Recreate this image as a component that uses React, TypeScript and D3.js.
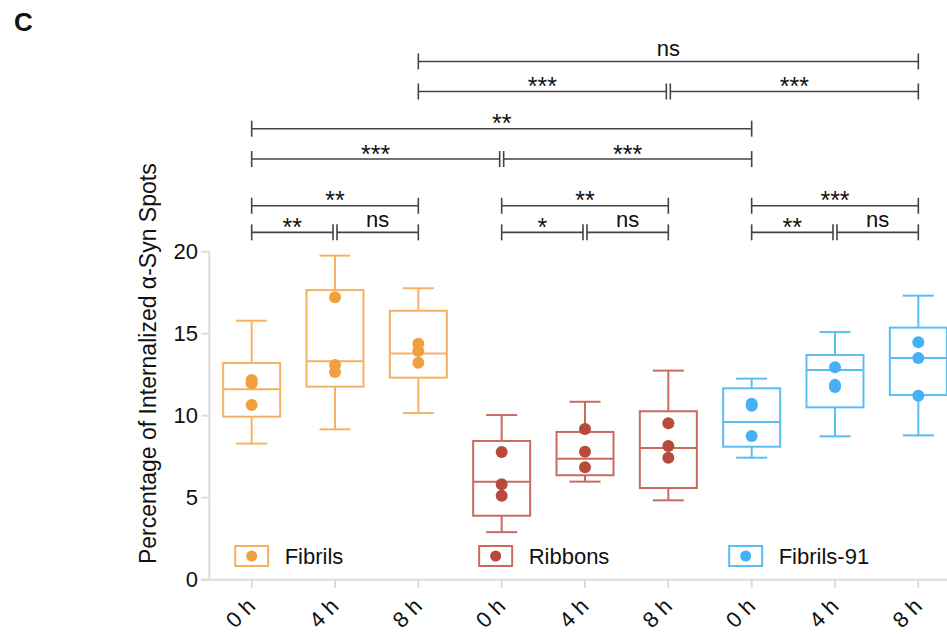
import React from "react";
import * as d3 from "d3";

const groups = ["Fibrils", "Ribbons", "Fibrils-91"];
const times = ["0 h", "4 h", "8 h"];

// box stats per time point: whisker low, q1, median, q3, whisker high
const fibrilsMin = [8.3, 9.17, 10.16];
const fibrilsQ1 = [9.94, 11.77, 12.32];
const fibrilsMedian = [11.61, 13.32, 13.8];
const fibrilsQ3 = [13.21, 17.66, 16.4];
const fibrilsMax = [15.79, 19.76, 17.77];
const fibrilsPoints = [
  [12.18, 11.98, 10.65],
  [17.22, 13.09, 12.66],
  [14.39, 13.95, 13.23],
];

const ribbonsMin = [2.9, 5.98, 4.84];
const ribbonsQ1 = [3.9, 6.37, 5.59];
const ribbonsMedian = [5.98, 7.38, 8.03];
const ribbonsQ3 = [8.46, 9.01, 10.27];
const ribbonsMax = [10.04, 10.85, 12.75];
const ribbonsPoints = [
  [7.79, 5.82, 5.12],
  [9.19, 7.8, 6.85],
  [9.54, 8.15, 7.44],
];

const f91Min = [7.44, 8.74, 8.8];
const f91Q1 = [8.11, 10.51, 11.26];
const f91Median = [9.62, 12.79, 13.52];
const f91Q3 = [11.67, 13.7, 15.37];
const f91Max = [12.26, 15.1, 17.32];
const f91Points = [
  [10.73, 10.6, 8.76],
  [12.95, 11.88, 11.75],
  [14.48, 13.52, 11.22],
];

const yTicks = [0, 5, 10, 15, 20];

// significance brackets: [from index, to index, label, level (y units)]
const sigBrackets = [
  [2, 8, "ns", 31.6],
  [2, 5, "***", 29.77],
  [5, 8, "***", 29.77],
  [0, 6, "**", 27.5],
  [0, 3, "***", 25.65],
  [3, 6, "***", 25.65],
  [0, 2, "**", 22.8],
  [3, 5, "**", 22.8],
  [6, 8, "***", 22.8],
  [0, 1, "**", 21.18],
  [1, 2, "ns", 21.18],
  [3, 4, "*", 21.18],
  [4, 5, "ns", 21.18],
  [6, 7, "**", 21.18],
  [7, 8, "ns", 21.18],
];

const lineColors = ["#F5B264", "#C86A5E", "#5CBDF5"];
const dotColors = ["#F0A03C", "#B84A3B", "#45B0F6"];

const series = [
  { min: fibrilsMin, q1: fibrilsQ1, med: fibrilsMedian, q3: fibrilsQ3, max: fibrilsMax, pts: fibrilsPoints },
  { min: ribbonsMin, q1: ribbonsQ1, med: ribbonsMedian, q3: ribbonsQ3, max: ribbonsMax, pts: ribbonsPoints },
  { min: f91Min, q1: f91Q1, med: f91Median, q3: f91Q3, max: f91Max, pts: f91Points },
];

const width = 947;
const height = 634;
const font = "'Liberation Sans', Arial, sans-serif";

export default function App() {
  const keys = d3.range(groups.length * times.length);

  const x = d3.scaleBand<number>().domain(keys).range([210, 960]).padding(0);
  const cx = (i: number) => (x(i) as number) + x.bandwidth() / 2;

  const y = d3.scaleLinear().domain([0, 20]).range([579.7, 251.7]);

  const boxW = 57;
  const capW = 31;

  const rows = [];
  series.forEach((s, g) => {
    times.forEach((t, k) => {
      rows.push({
        i: g * 3 + k,
        g,
        min: s.min[k],
        q1: s.q1[k],
        med: s.med[k],
        q3: s.q3[k],
        max: s.max[k],
        pts: s.pts[k],
      });
    });
  });

  return (
    <svg width={width} height={height} style={{ position: "absolute", left: 0, top: 0 }} fontFamily={font}>
      <text x={14} y={31} fontSize={26} fontWeight="bold" fill="#111">
        C
      </text>

      {/* y axis */}
      <line x1={209.3} x2={209.3} y1={y(20)} y2={y(0)} stroke="#dcdcdc" strokeWidth={2} />
      {yTicks.map((t) => (
        <g key={t}>
          <line x1={201.5} x2={209.3} y1={y(t)} y2={y(t)} stroke="#dcdcdc" strokeWidth={2} />
          <text x={198} y={y(t)} dy="0.35em" textAnchor="end" fontSize={22} fill="#111">
            {t}
          </text>
        </g>
      ))}
      <text
        transform={`translate(156,${(y(0) + y(20)) / 2 - 52}) rotate(-90)`}
        textAnchor="middle"
        fontSize={23}
        fill="#111"
      >
        Percentage of Internalized α-Syn Spots
      </text>

      {/* x axis */}
      <line x1={201.5} x2={width} y1={y(0)} y2={y(0)} stroke="#dcdcdc" strokeWidth={2} />
      {keys.map((i) => (
        <g key={i}>
          <line x1={cx(i)} x2={cx(i)} y1={y(0)} y2={y(0) + 8} stroke="#dcdcdc" strokeWidth={2} />
          <text
            transform={`translate(${cx(i) + 5},${y(0) + 28}) rotate(-45)`}
            textAnchor="end"
            fontSize={22}
            fill="#111"
          >
            {times[i % 3]}
          </text>
        </g>
      ))}

      {/* boxes */}
      {rows.map((r) => {
        const c = cx(r.i);
        const col = lineColors[r.g];
        return (
          <g key={r.i} stroke={col} strokeWidth={2} fill="none">
            <line x1={c} x2={c} y1={y(r.max)} y2={y(r.q3)} />
            <line x1={c} x2={c} y1={y(r.q1)} y2={y(r.min)} />
            <line x1={c - capW / 2} x2={c + capW / 2} y1={y(r.max)} y2={y(r.max)} />
            <line x1={c - capW / 2} x2={c + capW / 2} y1={y(r.min)} y2={y(r.min)} />
            <rect x={c - boxW / 2} y={y(r.q3)} width={boxW} height={y(r.q1) - y(r.q3)} />
            <line x1={c - boxW / 2} x2={c + boxW / 2} y1={y(r.med)} y2={y(r.med)} />
            {r.pts.map((p, j) => (
              <circle key={j} cx={c} cy={y(p)} r={6} fill={dotColors[r.g]} stroke="none" />
            ))}
          </g>
        );
      })}

      {/* legend */}
      {groups.map((name, g) => {
        const c = cx(g * 3) - (g === 0 ? 0 : 6);
        return (
          <g key={name}>
            <rect x={c - 16.5} y={546} width={33} height={20} fill="none" stroke={lineColors[g]} strokeWidth={2} />
            <circle cx={c} cy={556} r={5.5} fill={dotColors[g]} />
            <text x={c + 33} y={556} dy="0.36em" fontSize={22} fill="#111">
              {name}
            </text>
          </g>
        );
      })}

      {/* significance brackets */}
      {sigBrackets.map(([a, b, label, lvl], k) => {
        const ly = y(lvl as number);
        const left = sigBrackets.some((o) => o[1] === a && o[3] === lvl);
        const right = sigBrackets.some((o) => o[0] === b && o[3] === lvl);
        const x1 = cx(a as number) + (left ? 2 : 0);
        const x2 = cx(b as number) - (right ? 2 : 0);
        const isStar = label !== "ns";
        return (
          <g key={k}>
            <line x1={x1} x2={x2} y1={ly} y2={ly} stroke="#444" strokeWidth={1.6} />
            <line x1={x1} x2={x1} y1={ly - 8} y2={ly + 8} stroke="#444" strokeWidth={1.6} />
            <line x1={x2} x2={x2} y1={ly - 8} y2={ly + 8} stroke="#444" strokeWidth={1.6} />
            <text
              x={(x1 + x2) / 2}
              y={isStar ? ly + 3.5 : ly - 5.5}
              textAnchor="middle"
              fontSize={isStar ? 25 : 22}
              fill="#111"
            >
              {label}
            </text>
          </g>
        );
      })}
    </svg>
  );
}
